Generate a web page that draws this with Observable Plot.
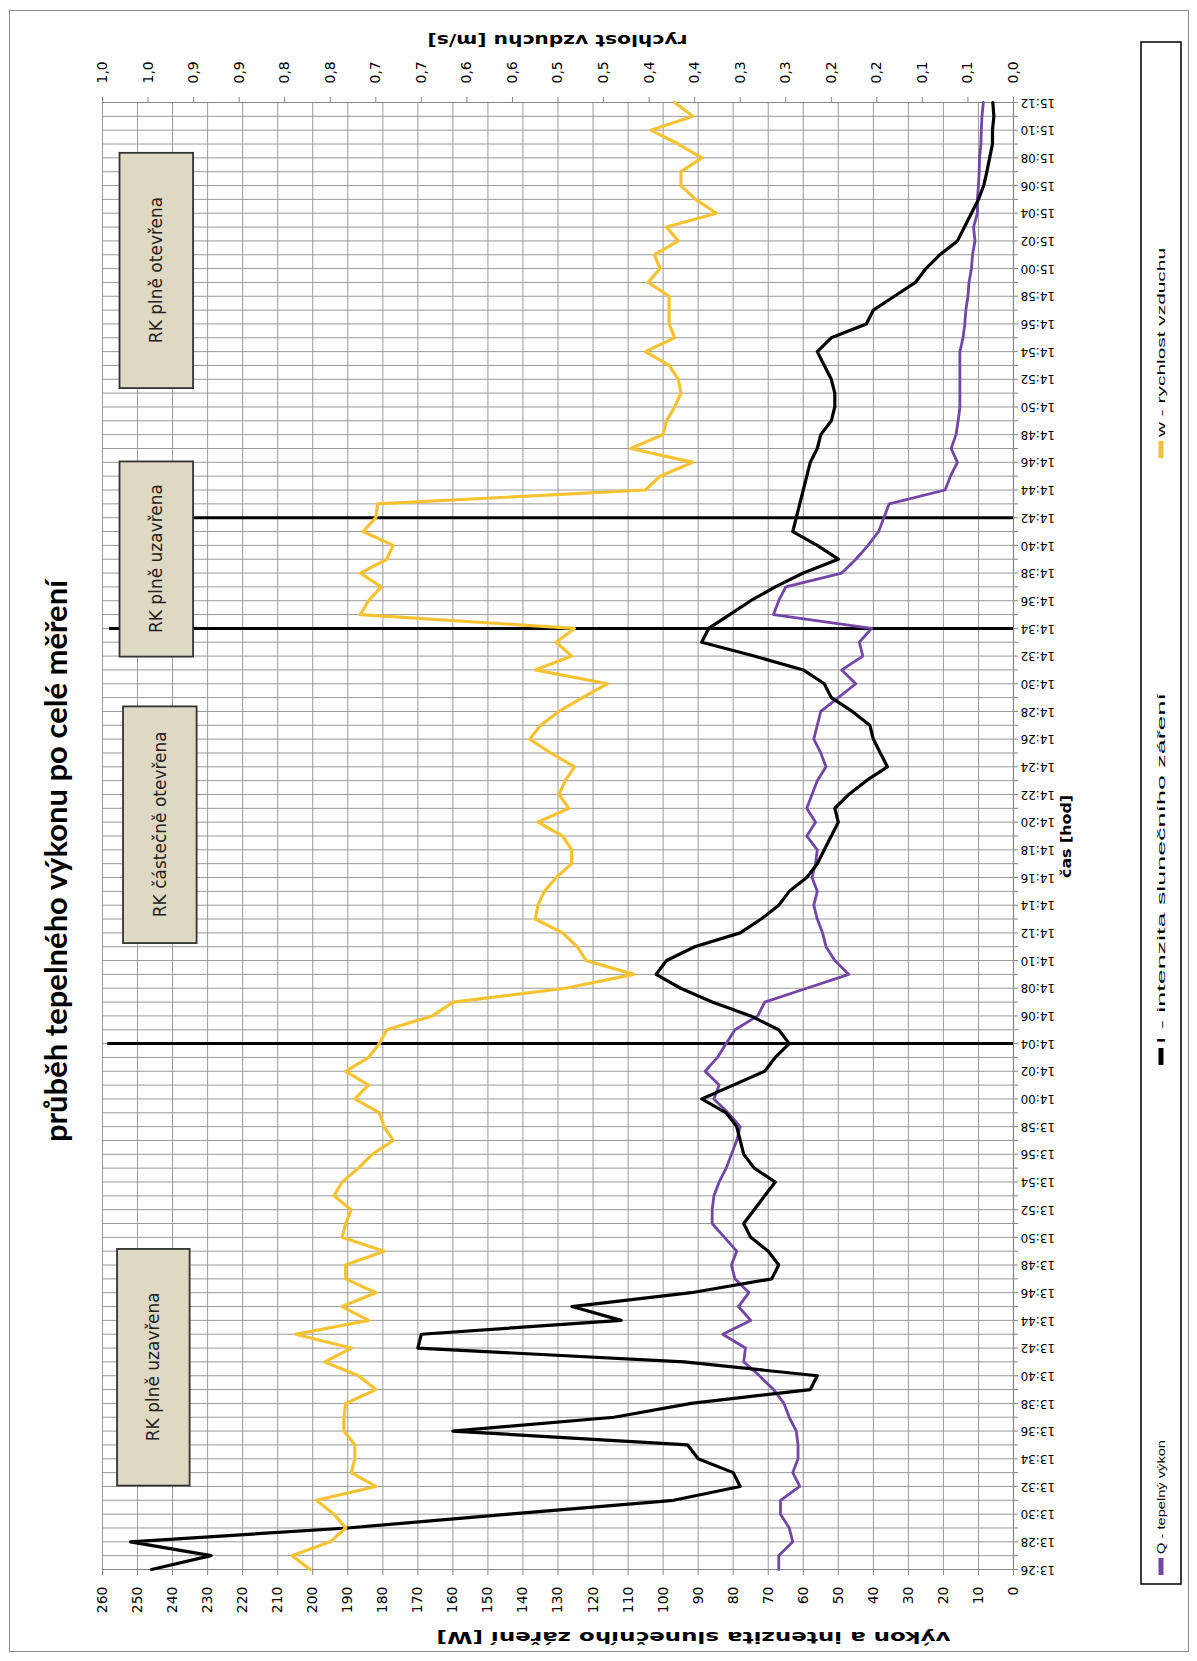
<!DOCTYPE html>
<html><head><meta charset="utf-8">
<script src="https://cdn.jsdelivr.net/npm/d3@7"></script>
<script src="https://cdn.jsdelivr.net/npm/@observablehq/plot@0.6"></script>
<style>
html,body{margin:0;padding:0;background:#fff;width:1197px;height:1661px;overflow:hidden}
#wrap{position:absolute;left:0;top:0;width:1661px;height:1197px;transform-origin:0 0;transform:translate(0px,1661px) rotate(-90deg);background:#fff}
#frame{position:absolute;left:9px;top:9px;width:1642px;height:1180px;border:1px solid #8c8c8c;box-sizing:border-box}
#title{position:absolute;left:0;width:1600px;top:36px;text-align:center;font-family:Lato,"Open Sans",sans-serif;font-weight:bold;font-size:31px;color:#000}
#overlay{position:absolute;left:0;top:0}
#chart{position:absolute;left:0;top:0}
</style></head><body><div id="wrap"><div id="frame"></div><div id="chart"></div><svg id="overlay" width="1661" height="1197"></svg></div>
<script>
// ---- data (minute by minute, 13:26 .. 15:12) ----
const startTime = "13:26";
// Q - tepelný výkon [W]
const Q = [67,67,63,64,66.5,66.5,61,63,61.5,61.5,62,64,65.5,68.5,72.5,77,76.5,83,75,78.5,75.5,79.5,80.5,79,82.5,86,
86,85.5,84,82,80.5,79,78,81.5,85.5,84,88,84.5,82,79.5,73,71,59,47,51,53.5,54.5,56,57,56,57.5,56.5,56,
59,56.5,59,57.5,56,53.5,55,57,56,55,50,45,49,43,44,40.5,68.5,67,65,49,45,41.5,38.5,37,35.5,19.5,18,
16,17.8,16.4,15.8,15.3,15.3,15.3,15.3,15.3,14.4,13.9,13.6,13,12.7,12,11.7,11,11.4,10.3,10.3,10,9.8,9.7,9.3,9.2,9,8.6];
// I - intenzita slunečního záření [W]
const I = [246,229,252,190,144,97,78,80,90,93,160,114,92,58,56,94,170,169,112,126,92,69,67,70,75,77,
74,71,68,74,77,78,79,82,89,80,71,68,64,67,75,86,95,102,99,91,78,72,67,64,59,56,54,
52,50,51,47,42,36,38,40,41,46,52,54,60,74,89,87,81,75,68,60,50,56,63,62,61,60,59,
58,56,55,52,51,51,52,54,56,52,42,40,34,28,25,21,16,14,12,10,8.5,7.6,6.8,6,6,5.6,5.9];
// w - rychlost vzduchu [m/s]
const Wv = [0.772,0.792,0.750,0.733,0.746,0.765,0.700,0.727,0.723,0.723,0.735,0.735,0.733,0.700,0.719,0.756,0.727,0.788,0.708,0.737,0.700,0.733,0.733,0.691,0.737,0.733,
0.727,0.746,0.737,0.719,0.704,0.681,0.691,0.696,0.723,0.708,0.733,0.708,0.696,0.688,0.638,0.615,0.492,0.417,0.469,0.479,0.495,0.525,0.522,0.515,0.502,0.485,0.485,
0.495,0.522,0.488,0.499,0.492,0.482,0.508,0.531,0.519,0.499,0.473,0.446,0.525,0.485,0.502,0.482,0.717,0.708,0.694,0.717,0.688,0.681,0.714,0.700,0.698,0.404,0.388,
0.352,0.420,0.385,0.381,0.372,0.365,0.368,0.378,0.404,0.372,0.378,0.378,0.378,0.401,0.388,0.394,0.368,0.381,0.326,0.349,0.365,0.365,0.342,0.368,0.398,0.352,0.372];

const timeLabels = ["13:26","13:28","13:30","13:32","13:34","13:36","13:38","13:40","13:42","13:44","13:46","13:48","13:50","13:52","13:54","13:56","13:58",
"14:00","14:02","14:04","14:06","14:08","14:10","14:12","14:14","14:16","14:18","14:20","14:22","14:24","14:26","14:28","14:30","14:32","14:34","14:36","14:38",
"14:40","14:42","14:44","14:46","14:48","14:50","14:52","14:54","14:56","14:58","15:00","15:02","15:04","15:06","15:08","15:10","15:12"];
const leftTicks = [0,10,20,30,40,50,60,70,80,90,100,110,120,130,140,150,160,170,180,190,200,210,220,230,240,250,260];
const rightTicks = [0,0.05,0.1,0.15,0.2,0.25,0.3,0.35,0.4,0.45,0.5,0.55,0.6,0.65,0.7,0.75,0.8,0.85,0.9,0.95,1.0];
const rightLabels = ["0,0","0,1","0,1","0,2","0,2","0,3","0,3","0,4","0,4","0,5","0,5","0,6","0,6","0,7","0,7","0,8","0,8","0,9","0,9","1,0","1,0"];

// events (vertical lines) and annotation boxes
const eventTimes = ["14:04","14:34","14:42"];
const eventFrom = [0,0,0];
const eventTo = [258.5,258,234];
const boxLabels = ["RK plně uzavřena","RK částečně otevřena","RK plně uzavřena","RK plně otevřena"];
const boxFrom = ["13:32.1","14:11.3","14:32.0","14:51.4"];
const boxTo = ["13:49.2","14:28.4","14:46.1","15:08.4"];
const boxLow = [235,233,234,234];
const boxHigh = [255.7,254,255,255];

const seriesNames = ["Q - tepelný výkon","I - intenzita  slunečního záření","w - rychlost vzduchu"];
const seriesColors = ["#7346a6","#000000","#f5c332"];

const title = "průběh tepelného výkonu po celé měření";
const xTitle = "čas [hod]";
const yTitle = "výkon a intenzita slunečního záření [W]";
const y2Title = "rychlost vzduchu [m/s]";

// ---- helpers ----
const toMin = s => { const [h,m] = s.split(":"); return (+h*60 + +m) - (13*60+26); };
const SEC = 260 / 1.0; // secondary axis (m/s) -> primary units
const n = Q.length;
const rows = d3.range(n).map(i => ({t:i, q:Q[i], i:I[i], w:Wv[i]*SEC}));
const events = eventTimes.map((s,k)=>({t:toMin(s), a:eventFrom[k], b:eventTo[k]}));
const boxes = boxLabels.map((l,k)=>({label:l, t1:toMin(boxFrom[k]), t2:toMin(boxTo[k]), y1:boxLow[k], y2:boxHigh[k]}));

const axisColor = "#868686", gridColor = "#9a9a9a";
const fontTick = "DejaVu Sans";
const rightFmt = d => { const k = rightTicks.findIndex(v => Math.abs(v*SEC - d) < 1e-6); return k < 0 ? "" : rightLabels[k]; };

const chart = Plot.plot({
  width:1661, height:1197,
  marginLeft:91, marginRight:103, marginTop:102, marginBottom:184,
  x:{domain:[0,106]},
  y:{domain:[0,260]},
  style:{fontFamily:fontTick, fontSize:"14px", color:"#000", background:"transparent", overflow:"visible"},
  marks:[
    Plot.ruleY(leftTicks.slice(1), {stroke:gridColor, strokeWidth:1}),
    Plot.ruleX(d3.range(1,106), {stroke:gridColor, strokeWidth:1}),
    // axis lines
    Plot.ruleY([0], {stroke:axisColor, strokeWidth:1.2}),
    Plot.ruleX([0], {stroke:axisColor, strokeWidth:1.2}),
    Plot.ruleX([106], {stroke:axisColor, strokeWidth:1.2}),
    // time axis: ticks every minute, labels every 2 minutes
    Plot.axisX({ticks:d3.range(0,107), tickSize:5, tickFormat:()=>"", stroke:axisColor, label:null}),
    Plot.axisX({ticks:d3.range(0,107,2), tickSize:0, tickPadding:7, tickRotate:-90, tickFormat:d=>timeLabels[d/2], label:null, fontSize:12}),
    // left axis
    Plot.axisY({ticks:leftTicks, tickSize:5, tickPadding:12, anchor:"left", stroke:axisColor, label:null, fontSize:14}),
    // right axis (m/s)
    Plot.axisY({anchor:"right", ticks:rightTicks.map(v=>v*SEC), tickFormat:rightFmt, tickSize:5, tickPadding:14, stroke:axisColor, label:null, fontSize:14}),
    // event lines
    Plot.ruleX(events, {x:"t", y1:"a", y2:"b", stroke:"#000", strokeWidth:3}),
    // series
    Plot.line(rows, {x:"t", y:"q", stroke:seriesColors[0], strokeWidth:2.8}),
    Plot.line(rows, {x:"t", y:"i", stroke:seriesColors[1], strokeWidth:3.2}),
    Plot.line(rows, {x:"t", y:"w", stroke:seriesColors[2], strokeWidth:3.2}),
    // annotation boxes
    Plot.rect(boxes, {x1:"t1", x2:"t2", y1:"y1", y2:"y2", fill:"#ddd9c3", stroke:"#333", strokeWidth:1.8}),
    Plot.text(boxes, {x:d=>(d.t1+d.t2)/2, y:d=>(d.y1+d.y2)/2, text:"label", fontSize:17, fontFamily:fontTick, fill:"#222"})
  ]
});
document.getElementById("chart").appendChild(chart);
document.getElementById("wrap").insertAdjacentHTML("beforeend", `<div id="title">${title}</div>`);

const xs = chart.scale("x"), ys = chart.scale("y");
const ov = d3.select("#overlay");
const fx0 = xs.apply(0), fx1 = xs.apply(106), fy0 = ys.apply(0), fy1 = ys.apply(260);

// axis titles (fixed lengths to match the stretched original lettering)
function label(txt, x, y, rot, len, size) {
  const t = ov.append("text").attr("transform", `translate(${x},${y}) rotate(${rot})`)
    .attr("text-anchor","middle").attr("dy","0.35em")
    .attr("font-family","DejaVu Sans").attr("font-weight","bold").attr("font-size",size).text(txt);
  if (len) t.attr("textLength", len).attr("lengthAdjust","spacingAndGlyphs");
}
label(xTitle, (fx0+fx1)/2, fy0 + 53, 0, 83, 14);
label(yTitle, fx0 - 67, (fy0+fy1)/2 + 136, -90, 514, 15);
label(y2Title, fx1 + 63, (fy0+fy1)/2, -90, 260, 15);

// legend (below the chart in the unrotated frame)
ov.append("rect").attr("x",77).attr("y",1141).attr("width",1542).attr("height",40).attr("fill","#fff").attr("stroke","#000").attr("stroke-width",1.5);
const itemPos = [86, 596, 1203];
const itemLen = [114, 351, 189];
seriesNames.forEach((name,k)=>{
  const g = ov.append("g").attr("transform",`translate(${itemPos[k]},1161)`);
  g.append("line").attr("x1",0).attr("x2",17).attr("stroke",seriesColors[k]).attr("stroke-width",5);
  g.append("text").attr("x",21).attr("dy","0.35em").attr("font-family","Liberation Sans, sans-serif").attr("font-size",11)
    .attr("textLength", itemLen[k]).attr("lengthAdjust","spacingAndGlyphs").text(name);
});
</script></body></html>
